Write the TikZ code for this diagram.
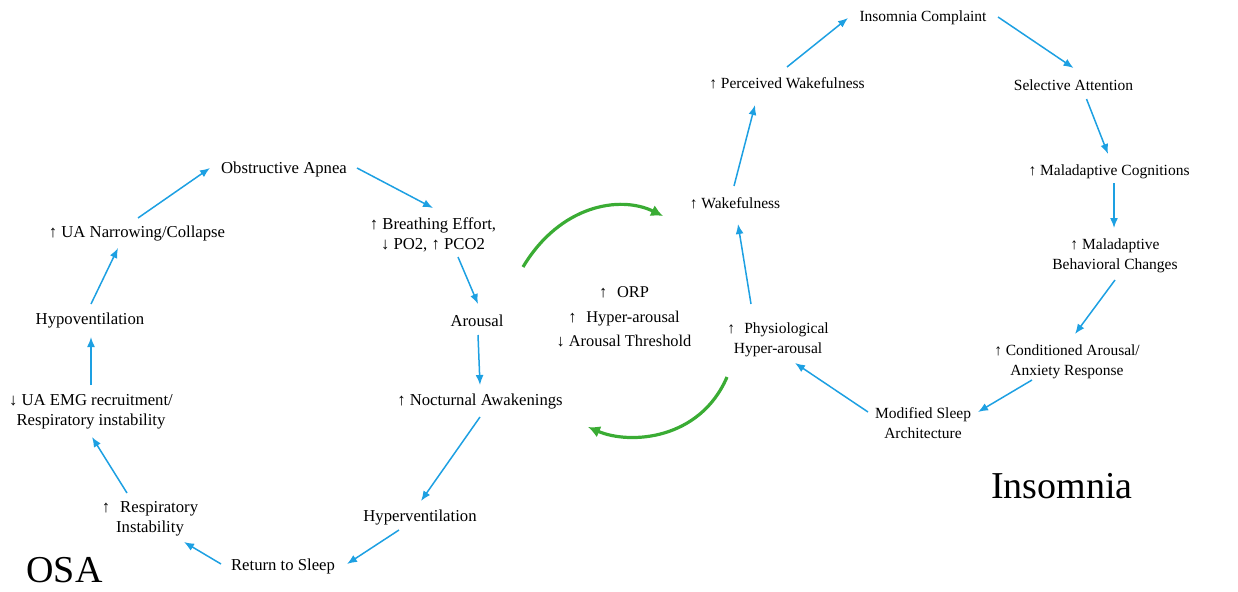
\documentclass[tikz,border=0pt]{standalone}
\usepackage{fontspec}
\setmainfont{Liberation Serif}
\usetikzlibrary{arrows.meta}
\definecolor{arrblue}{RGB}{29,160,226}
\definecolor{arrgreen}{RGB}{58,172,52}
\begin{document}
\begin{tikzpicture}[x=1pt,y=-1pt,
  lbl/.style={inner sep=0pt, align=center, font=\fontsize{16.7}{20}\selectfont},
  lblr/.style={inner sep=0pt, align=center, font=\fontsize{15.5}{20}\selectfont},
  big/.style={inner sep=0pt, font=\fontsize{38}{40}\selectfont},
  arr/.style={draw=arrblue, line width=1.5pt, -{Latex[length=10pt,width=8pt]}},
  garr/.style={draw=arrgreen, line width=3.2pt, -{Latex[length=12pt,width=12pt]}}]
\useasboundingbox (0,0) rectangle (1238,591);
% OSA cycle
\node[lbl] (ob) at (284,169) {Obstructive Apnea};
\node[lbl] (br) at (433,235) {↑ Breathing Effort,\\ ↓ PO2, ↑ PCO2};
\node[lbl] (ar) at (477,321) {Arousal};
\node[lbl] (na) at (480,402) {↑ Nocturnal Awakenings};
\node[lbl] (hv) at (420,518) {Hyperventilation};
\node[lbl] (rs) at (283,566) {Return to Sleep};
\node[lbl] (ri) at (150,519) {↑\hspace{0.6em}Respiratory\\ Instability};
\node[lbl] (ue) at (91,412) {↓ UA EMG recruitment/\\ Respiratory instability};
\node[lbl] (hp) at (90,321) {Hypoventilation};
\node[lbl] (un) at (137,234) {↑ UA Narrowing/Collapse};
\node[big] (osa) at (64.5,570) {OSA};
% Insomnia cycle
\node[lblr] (ic) at (923,18) {Insomnia Complaint};
\node[lblr] (sa) at (1073.5,85) {Selective Attention};
\node[lblr] (mc) at (1109,172) {↑ Maladaptive Cognitions};
\node[lblr] (mb) at (1115,256) {↑ Maladaptive\\ Behavioral Changes};
\node[lblr] (ca) at (1067,362) {↑ Conditioned Arousal/\\ Anxiety Response};
\node[lblr] (ms) at (923,423) {Modified Sleep\\ Architecture};
\node[lblr] (ph) at (778,340) {↑\hspace{0.6em}Physiological\\ Hyper-arousal};
\node[lblr] (wk) at (735,203) {↑ Wakefulness};
\node[lblr] (pw) at (787,83) {↑ Perceived Wakefulness};
\node[big] (ins) at (1062,486) {Insomnia};
% centre
\node[lbl, font=\fontsize{16.4}{24.5}\selectfont] (cen) at (624,317) {↑\hspace{0.6em}ORP\\ ↑\hspace{0.6em}Hyper-arousal\\ ↓ Arousal Threshold};
% OSA arrows
\draw[arr] ([shift={(1,-16)}]un.center) -- ([shift={(-74,-1)}]ob.center);
\draw[arr] ([shift={(73,-1)}]ob.center) -- ([shift={(0,-27)}]br.center);
\draw[arr] ([shift={(25,22)}]br.center) -- ([shift={(1,-17)}]ar.center);
\draw[arr] ([shift={(1,14)}]ar.center) -- ([shift={(0,-17)}]na.center);
\draw[arr] ([shift={(0,15)}]na.center) -- ([shift={(1,-17)}]hv.center);
\draw[arr] ([shift={(-21,12)}]hv.center) -- ([shift={(64,-2)}]rs.center);
\draw[arr] ([shift={(-62,-2)}]rs.center) -- ([shift={(34,23)}]ri.center);
\draw[arr] ([shift={(-23,-26)}]ri.center) -- ([shift={(1,25)}]ue.center);
\draw[arr] ([shift={(0,-27)}]ue.center) -- ([shift={(1,16)}]hp.center);
\draw[arr] ([shift={(1,-17)}]hp.center) -- ([shift={(-19,14)}]un.center);
% Insomnia arrows
\draw[arr] ([shift={(0,-16)}]pw.center) -- ([shift={(-75,0)}]ic.center);
\draw[arr] ([shift={(75,-1)}]ic.center) -- ([shift={(0,-17)}]sa.center);
\draw[arr] ([shift={(13,14)}]sa.center) -- ([shift={(-1,-18)}]mc.center);
\draw[arr] ([shift={(5,11)}]mc.center) -- ([shift={(-1,-28)}]mb.center);
\draw[arr] ([shift={(0,24)}]mb.center) -- ([shift={(8,-28)}]ca.center);
\draw[arr] ([shift={(-35,18)}]ca.center) -- ([shift={(55,-11)}]ms.center);
\draw[arr] ([shift={(-55,-11)}]ms.center) -- ([shift={(17,23)}]ph.center);
\draw[arr] ([shift={(-27,-36)}]ph.center) -- ([shift={(3,21)}]wk.center);
\draw[arr] ([shift={(-1,-17)}]wk.center) -- ([shift={(-32,22)}]pw.center);
% green arcs
\coordinate (g1a) at (523,267);
\coordinate (g1b) at (663,216);
\coordinate (g2a) at (727,377);
\coordinate (g2b) at (588,427);
\draw[garr] (g1a) .. controls (560,205) and (620,195) .. (g1b);
\draw[garr] (g2a) .. controls (700,440) and (630,445) .. (g2b);
\end{tikzpicture}
\end{document}
